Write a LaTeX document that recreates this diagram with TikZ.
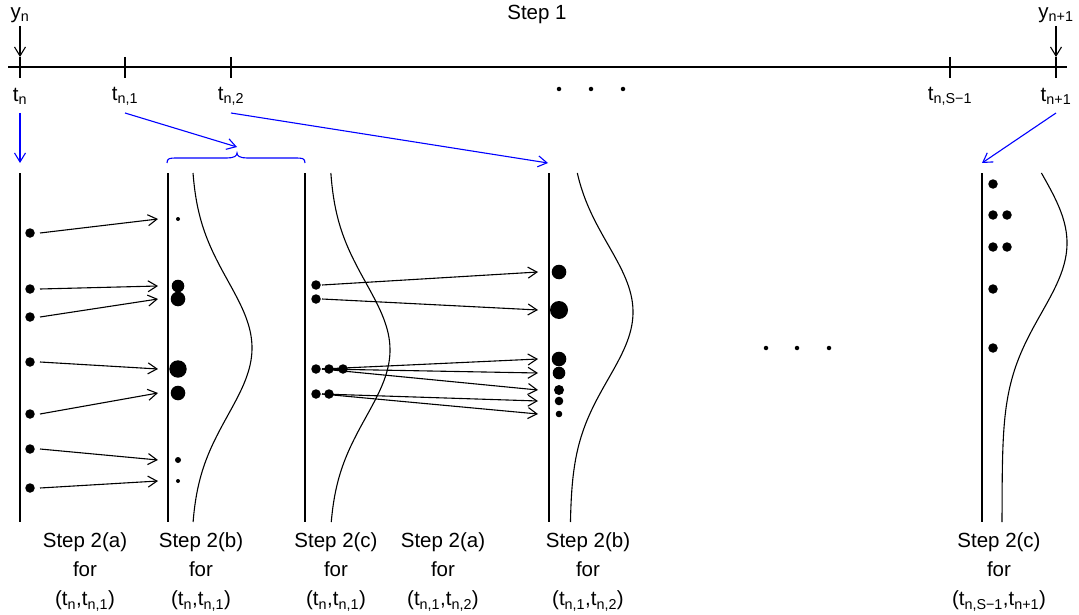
\documentclass[tikz,border=0pt]{standalone}
\usepackage{fontspec}
\setmainfont{Liberation Sans}
\usetikzlibrary{arrows.meta}
\definecolor{pureblue}{RGB}{0,0,255}
\tikzset{
  ln/.style={line width=1.1pt},
  arr/.style={ln,-{Straight Barb[length=9pt,width=11pt,line width=1.1pt]}},
  barr/.style={arr,pureblue},
  dot/.style={circle,fill=black,draw=none,inner sep=0pt,minimum size=#1},
  lab/.style={font=\fontsize{20.5}{29}\selectfont,inner sep=0pt},
  steplab/.style={lab,align=center},
}
\begin{document}
\begin{tikzpicture}[x=1pt,y=-1pt]
\useasboundingbox (0,0) rectangle (1079,615);
% timeline
\coordinate (L0) at (8,67);
\coordinate (L1) at (1067,67);
\draw[ln] (L0) -- (L1);
\foreach \n/\xx in {k0/20,k1/125,k2/231,k3/950,k4/1056}{
  \coordinate (\n top) at (\xx,57);
  \coordinate (\n bot) at (\xx,78);
  \draw[ln] (\n top) -- (\n bot);
}
\node[lab] (step1) at (537,14) {Step 1};
\node[lab] (yn) at (20,15) {y\textsubscript{n}};
\node[lab] (yn1) at (1056,15) {y\textsubscript{n+1}};
\coordinate (ynA) at (20,26);
\coordinate (yn1A) at (1056,26);
\draw[arr] (ynA) -- (k0top);
\draw[arr] (yn1A) -- (k4top);
\node[lab] (tn) at (20,96) {t\textsubscript{n}};
\node[lab] (tn1) at (125,96) {t\textsubscript{n,1}};
\node[lab] (tn2) at (231,96) {t\textsubscript{n,2}};
\node[lab] (tnS) at (950,96) {t\textsubscript{n,S−1}};
\node[lab] (tnp) at (1056,96) {t\textsubscript{n+1}};
\foreach \n/\xx in {m1/559,m2/591,m3/623}{\node[dot=4.5pt] (\n) at (\xx,89) {};}
\foreach \n/\xx in {q1/766,q2/797,q3/829}{\node[dot=4.5pt] (\n) at (\xx,348) {};}
% blue arrows
\coordinate (s0) at (20,113);
\coordinate (e0) at (20,163);
\coordinate (s1) at (125,113);
\coordinate (e1) at (237,147);
\coordinate (s2) at (231,113);
\coordinate (e2) at (548,163);
\coordinate (s4) at (1056,113);
\coordinate (e4) at (982,163);
\draw[barr] (s0) -- (e0);
\draw[barr] (s1) -- (e1);
\draw[barr] (s2) -- (e2);
\draw[barr] (s4) -- (e4);
% brace
\coordinate (brL) at (167,163);
\coordinate (brM) at (237,153);
\coordinate (brR) at (305,163);
\draw[ln,pureblue] (brL) .. controls (167,158) and (170,158) .. (177,158) -- (227,158)
  .. controls (234,158) and (237,156) .. (brM)
  .. controls (237,156) and (240,158) .. (247,158) -- (295,158)
  .. controls (302,158) and (305,158) .. (brR);
% columns
\foreach \n/\xx in {c1/20,c2/168,c3/305,c4/549,c5/982}{
  \coordinate (\n t) at (\xx,173);
  \coordinate (\n b) at (\xx,522);
  \draw[ln] (\n t) -- (\n b);
}
% density curves
\draw[ln] plot[domain=173:522,samples=90,smooth] ({191+61*exp(-0.5*((\x-348)/67)*((\x-348)/67))},\x);
\draw[ln] plot[domain=173:522,samples=90,smooth] ({329+61*exp(-0.5*((\x-350)/67)*((\x-350)/67))},\x);
\draw[ln] plot[domain=173:522,samples=90,smooth] ({570+63*exp(-0.5*((\x-312)/67)*((\x-312)/67))},\x);
\draw[ln] plot[domain=173:522,samples=90,smooth] ({1002+65*exp(-0.5*((\x-243)/70)*((\x-243)/70))},\x);
% column 1 particles
\foreach \i/\yy in {1/233,2/289,3/317,4/362,5/414,6/449,7/488}{\node[dot=9.5pt] (a\i) at (30,\yy) {};}
% column 2 particles
\foreach \i/\yy/\r in {1/219/4,2/286/12.6,3/299/14.6,4/369/17.4,5/393/14.6,6/460/6,7/481/4}{\node[dot=\r pt] (b\i) at (178,\yy) {};}
\foreach \i in {1,...,7}{\draw[arr] ([xshift=10pt]a\i.center) -- ([xshift=-20pt]b\i.center);}
% column 3 particles
\node[dot=9.5pt] (cc1) at (316,285) {};
\node[dot=9.5pt] (cc2) at (316,299) {};
\node[dot=9.5pt] (cc3) at (316,369) {};
\node[dot=9.5pt] (cc3b) at (329,369) {};
\node[dot=9.5pt] (cc3c) at (343,369) {};
\node[dot=9.5pt] (cc4) at (316,394) {};
\node[dot=9.5pt] (cc4b) at (329,394) {};
% column 4 particles
\foreach \i/\yy/\r in {1/272/14.6,2/310/18,3/359/14.6,4/373/12.6,5/390/10,6/401/8.6,7/414/6.6}{\node[dot=\r pt] (d\i) at (559,\yy) {};}
\foreach \s/\t in {cc1/d1,cc2/d2,cc3/d3,cc3/d4,cc3/d5,cc4/d6,cc4/d7}{\draw[arr] ([xshift=6pt]\s.center) -- ([xshift=-21pt]\t.center);}
% column 5 particles
\node[dot=9.5pt] (e1) at (993,184) {};
\node[dot=9.5pt] (e2) at (993,215) {};
\node[dot=9.5pt] (e2b) at (1007,215) {};
\node[dot=9.5pt] (e3) at (993,247) {};
\node[dot=9.5pt] (e3b) at (1007,247) {};
\node[dot=9.5pt] (e4) at (993,289) {};
\node[dot=9.5pt] (e5) at (993,348) {};
% bottom labels
\node[steplab] (l1) at (85,572) {Step 2(a)\\for\\(t\textsubscript{n},t\textsubscript{n,1})};
\node[steplab] (l2) at (201,572) {Step 2(b)\\for\\(t\textsubscript{n},t\textsubscript{n,1})};
\node[steplab] (l3) at (336,572) {Step 2(c)\\for\\(t\textsubscript{n},t\textsubscript{n,1})};
\node[steplab] (l4) at (443,572) {Step 2(a)\\for\\(t\textsubscript{n,1},t\textsubscript{n,2})};
\node[steplab] (l5) at (588,572) {Step 2(b)\\for\\(t\textsubscript{n,1},t\textsubscript{n,2})};
\node[steplab] (l6) at (999,572) {Step 2(c)\\for\\(t\textsubscript{n,S−1},t\textsubscript{n+1})};
\end{tikzpicture}
\end{document}
